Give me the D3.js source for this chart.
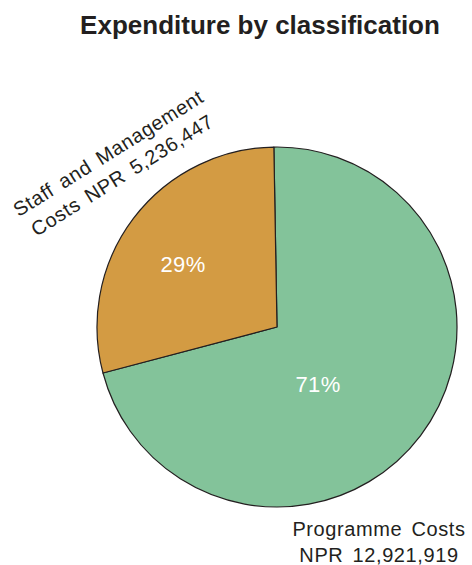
<!DOCTYPE html>
<html>
<head>
<meta charset="utf-8">
<script src="https://cdn.jsdelivr.net/npm/d3@7"></script>
<style>
  body { margin: 0; background: #fff; }
  text { font-family: "Liberation Sans", Arial, sans-serif; }
</style>
</head>
<body>
<div id="pie-chart"></div>
<script>
(function() {
  var width = 472,
    height = 565;

  // categories and values (NPR)
  var categories = ["Programme Costs", "Staff and Management Costs"];
  var values = [12921919, 5236447];
  var percentLabels = ["71%", "29%"];
  var nameLines = [["Programme Costs", "NPR 12,921,919"], ["Staff and Management", "Costs NPR 5,236,447"]];

  var colourScale = d3.scaleOrdinal().domain(categories).range(["#83c39a", "#d39b43"]);

  var cx = 277, cy = 327, radius = 180;

  var svg = d3.select("#pie-chart")
    .append("svg")
    .attr("width", width)
    .attr("height", height);

  svg.append("text")
    .attr("x", 260)
    .attr("y", 34)
    .attr("text-anchor", "middle")
    .style("font-size", "26px")
    .style("font-weight", "bold")
    .style("fill", "#231f20")
    .text("Expenditure by classification");

  var startA = -1 * Math.PI / 180;
  var pie = d3.pie()
    .sort(null)
    .startAngle(startA)
    .endAngle(startA + 2 * Math.PI);

  var arcs = pie(values);
  var arc = d3.arc().innerRadius(0).outerRadius(radius);

  var g = svg.append("g")
    .attr("transform", "translate(" + cx + "," + cy + ")");

  g.selectAll("path")
    .data(arcs)
    .enter().append("path")
    .attr("d", arc)
    .attr("fill", function(d, i) { return colourScale(categories[i]) })
    .attr("stroke", "#231f20")
    .attr("stroke-width", 1.2)
    .attr("stroke-linejoin", "round");

  // percentage labels, offsets from pie centre
  var pctPos = [[41, 65], [-94, -55]];
  g.selectAll(".pct")
    .data(arcs)
    .enter().append("text")
    .attr("class", "pct")
    .attr("x", function(d, i) { return pctPos[i][0] })
    .attr("y", function(d, i) { return pctPos[i][1] })
    .attr("text-anchor", "middle")
    .style("fill", "#ffffff")
    .style("font-size", "22px")
    .style("letter-spacing", "0.4px")
    .text(function(d, i) { return percentLabels[i] });

  // Programme label (horizontal)
  var prog = g.append("text")
    .attr("transform", "translate(102,209)")
    .attr("text-anchor", "middle")
    .style("font-size", "20px")
    .style("letter-spacing", "0.6px")
    .style("word-spacing", "3px")
    .style("fill", "#231f20");
  prog.selectAll("tspan")
    .data(nameLines[0])
    .enter().append("tspan")
    .attr("x", 0)
    .attr("dy", function(d, i) { return i === 0 ? 0 : 26 })
    .text(function(d) { return d });

  // Staff label (rotated)
  var staff = g.append("text")
    .attr("transform", "translate(-165,-168) rotate(-32)")
    .attr("text-anchor", "middle")
    .style("font-size", "20px")
    .style("letter-spacing", "0.6px")
    .style("word-spacing", "3px")
    .style("fill", "#231f20");
  staff.selectAll("tspan")
    .data(nameLines[1])
    .enter().append("tspan")
    .attr("x", 0)
    .attr("dy", function(d, i) { return i === 0 ? 0 : 26 })
    .text(function(d) { return d });
})();
</script>
</body>
</html>
